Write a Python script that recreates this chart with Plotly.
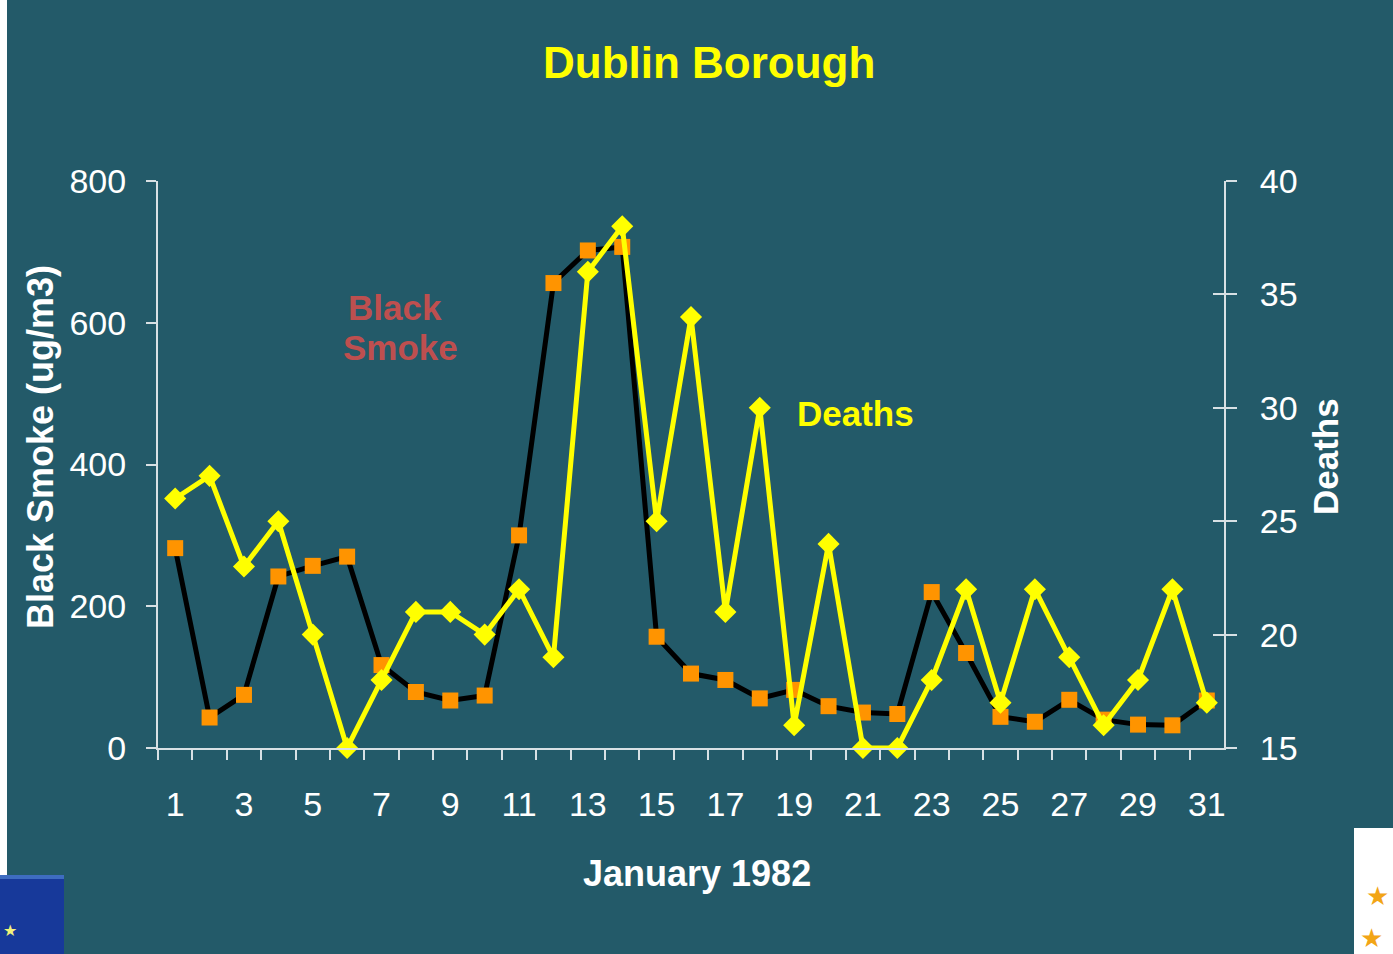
import plotly.graph_objects as go

days = list(range(1, 32))
black_smoke = [282, 43, 75, 242, 257, 270, 117, 79, 67, 74, 300, 656, 702, 707,
               157, 105, 96, 70, 82, 59, 50, 48, 220, 134, 44, 37, 68, 40, 33, 32, 67]
deaths = [26, 27, 23, 25, 20, 15, 18, 21, 21, 20, 22, 19, 36, 38,
          25, 34, 21, 30, 16, 24, 15, 15, 18, 22, 17, 22, 19, 16, 18, 22, 17]
x_tick_labels = [str(d) for d in range(1, 32, 2)]
left_ticks = [0, 200, 400, 600, 800]
right_ticks = [15, 20, 25, 30, 35, 40]

BG = "#235A69"
AX = "#D8E0E4"
FONT = "Liberation Sans, Arial, sans-serif"

W, H = 1393, 954
L, R, T, B = 158, 1224, 181, 748


def px(x):
    return (x - L) / (R - L)


def py(y):
    return (B - y) / (B - T)


fig = go.Figure()

fig.add_trace(go.Scatter(
    x=days, y=black_smoke, mode="lines+markers", name="Black Smoke",
    line=dict(color="black", width=5),
    marker=dict(symbol="square", size=16, color="#FF9400", line=dict(width=0)),
    cliponaxis=False, yaxis="y", xaxis="x"))

fig.add_trace(go.Scatter(
    x=days, y=deaths, mode="lines+markers", name="Deaths",
    line=dict(color="#FFFF00", width=5),
    marker=dict(symbol="diamond", size=17, color="#FFFF00", line=dict(width=0)),
    cliponaxis=False, yaxis="y2", xaxis="x"))

# invisible trace for the tick-crossing overlay axis on the right
fig.add_trace(go.Scatter(x=[days[0]], y=[deaths[0]], mode="markers",
                         marker=dict(opacity=0), showlegend=False,
                         hoverinfo="skip", yaxis="y3", xaxis="x"))

fig.update_layout(
    width=W, height=H,
    paper_bgcolor=BG, plot_bgcolor=BG,
    margin=dict(l=L, r=W - R, t=T, b=H - B),
    showlegend=False,
    font=dict(family=FONT, color="white"),
    xaxis=dict(
        range=[0.5, 31.5], tickmode="array",
        tickvals=list(range(1, 32, 2)), ticktext=x_tick_labels,
        ticks="", showgrid=False, zeroline=False,
        showline=True, linecolor=AX, linewidth=2,
        tickfont=dict(size=34, color="white", family=FONT),
        ticklabelstandoff=25,
        minor=dict(tickmode="array", tickvals=[d + 0.5 for d in range(0, 31)],
                   ticks="outside", ticklen=10, tickwidth=2, tickcolor=AX,
                   showgrid=False),
    ),
    yaxis=dict(
        range=[0, 800], tickmode="array", tickvals=left_ticks,
        ticks="outside", ticklen=10, tickwidth=2, tickcolor=AX,
        showgrid=False, zeroline=False,
        showline=True, linecolor=AX, linewidth=2,
        tickfont=dict(size=34, color="white", family=FONT),
        ticklabelstandoff=13,
    ),
    yaxis2=dict(
        range=[15, 40], tickmode="array", tickvals=right_ticks,
        overlaying="y", side="right",
        ticks="outside", ticklen=11, tickwidth=2, tickcolor=AX,
        showgrid=False, zeroline=False,
        showline=True, linecolor=AX, linewidth=2,
        tickfont=dict(size=34, color="white", family=FONT),
        ticklabelstandoff=16,
    ),
    yaxis3=dict(
        range=[15, 40], tickmode="array", tickvals=right_ticks,
        overlaying="y", side="right", anchor="x",
        ticks="inside", ticklen=11, tickwidth=2, tickcolor=AX,
        showticklabels=False, showgrid=False, zeroline=False, showline=False,
    ),
)

annotations = [
    dict(text="<b>Dublin Borough</b>", x=px(709), y=py(63),
         font=dict(size=44, color="#FFFF00", family=FONT)),
    dict(text="<b>January 1982</b>", x=px(697), y=py(873),
         font=dict(size=36, color="white", family=FONT)),
    dict(text="<b>Black Smoke (ug/m3)</b>", x=px(40), y=py(447), textangle=-90,
         font=dict(size=36, color="white", family=FONT)),
    dict(text="<b>Deaths</b>", x=px(1325), y=py(457), textangle=-90,
         font=dict(size=35, color="white", family=FONT)),
    dict(text="<b>Black</b>", x=px(395), y=py(307),
         font=dict(size=35, color="#BE4F4F", family=FONT)),
    dict(text="<b>Smoke</b>", x=px(400), y=py(347),
         font=dict(size=35, color="#BE4F4F", family=FONT)),
    dict(text="<b>Deaths</b>", x=px(855), y=py(413),
         font=dict(size=35, color="#FFFF00", family=FONT)),
    dict(text="★", x=px(10), y=py(930),
         font=dict(size=16, color="#F2F27A", family="DejaVu Sans")),
    dict(text="★", x=px(1377), y=py(896),
         font=dict(size=26, color="#F2A516", family="DejaVu Sans")),
    dict(text="★", x=px(1371), y=py(938),
         font=dict(size=26, color="#F2A516", family="DejaVu Sans")),
]
for a in annotations:
    a.update(xref="paper", yref="paper", showarrow=False,
             xanchor="center", yanchor="middle")
fig.update_layout(annotations=annotations)

shapes = [
    dict(type="rect", x0=px(0), x1=px(7), y0=py(0), y1=py(875),
         fillcolor="white", line=dict(width=0), layer="below"),
    dict(type="rect", x0=px(0), x1=px(64), y0=py(875), y1=py(954),
         fillcolor="#17399A", line=dict(width=0), layer="below"),
    dict(type="rect", x0=px(0), x1=px(64), y0=py(875), y1=py(879),
         fillcolor="#3E6CC0", line=dict(width=0), layer="below"),
    dict(type="rect", x0=px(1354), x1=px(1393), y0=py(828), y1=py(954),
         fillcolor="white", line=dict(width=0), layer="below"),
]
for s in shapes:
    s.update(xref="paper", yref="paper")
fig.update_layout(shapes=shapes)

fig.write_html("out.html",
               config={"displayModeBar": False},
               post_script="document.body.style.margin='0';"
                           "document.body.style.padding='0';")
